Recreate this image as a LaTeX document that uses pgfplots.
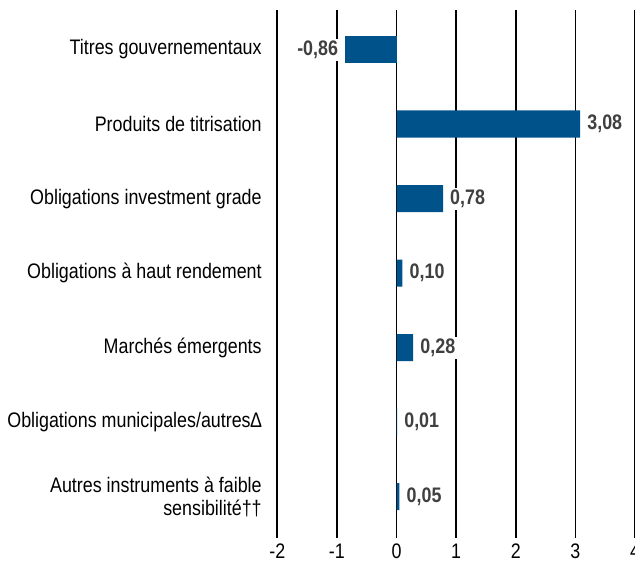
\documentclass[border={4bp 0bp 0bp 0bp}]{standalone}
\usepackage{fontspec}
\setmainfont[FakeStretch=0.85]{Liberation Sans}
\usepackage{pgfplots}
\pgfplotsset{compat=1.18}
\definecolor{barblue}{RGB}{0,83,138}
\definecolor{valgray}{RGB}{64,64,64}
\begin{document}
\begin{tikzpicture}[trim axis right]
\begin{axis}[
  scale only axis, width=356bp, height=525bp,
  xmin=-2, xmax=4, ymin=-0.53, ymax=6.55, y dir=reverse,
  xtick={-2,-1,0,1,2,3,4}, ytick={0,1,2,3,4,5,6},
  yticklabels={Titres gouvernementaux, Produits de titrisation, Obligations investment grade, Obligations à haut rendement, Marchés émergents, Obligations municipales/autres∆, {Autres instruments à faible\\sensibilité††}},
  yticklabel style={align=right, font=\fontsize{21}{23}\selectfont, text=black, xshift=-12bp},
  xticklabel style={font=\fontsize{21}{23}\selectfont, text=black, yshift=-3bp},
  axis line style={draw=none},
  major tick length=0pt,
  xmajorgrids, grid style={black, line width=1.6bp},
  /pgf/number format/assume math mode=true,
  /pgf/number format/use comma,
  xbar, bar width=27bp, bar shift=0pt,
  point meta=x,
  nodes near coords={\pgfmathprintnumber[fixed, fixed zerofill, precision=2, use comma]{\pgfplotspointmeta}},
  every node near coord/.append style={font=\bfseries\fontsize{21}{23}\selectfont, text=valgray, fill=white, inner sep=2bp},
]
\addplot[fill=barblue, draw=none, every node near coord/.append style={anchor=west, xshift=5bp}] coordinates {
  (3.08,1) (0.78,2) (0.10,3) (0.28,4) (0.01,5) (0.05,6)
};
\addplot[fill=barblue, draw=none, every node near coord/.append style={anchor=east, xshift=-5bp}] coordinates {
  (-0.86,0)
};
\end{axis}
\path (current axis.north west) -- ++(0,10bp);
\path (current axis.south west) -- ++(0,-32bp);
\end{tikzpicture}
\end{document}
